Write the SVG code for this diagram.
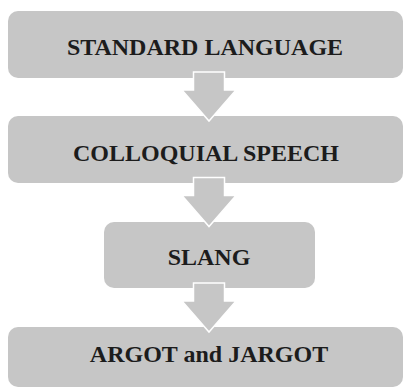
<svg xmlns="http://www.w3.org/2000/svg" width="405" height="388" viewBox="0 0 405 388">
  <defs>
    <style>
      .box { fill: #c6c6c6; }
      .arrow { fill: #c6c6c6; stroke: #ffffff; stroke-width: 1.5; stroke-linejoin: miter; }
      .label { font-family: "Liberation Serif", "Times New Roman", serif; font-weight: bold; font-size: 24px; fill: #1c1c1c; text-anchor: middle; }
    </style>
    <!-- downward block arrow, tip at origin's (0, 49) -->
    <path id="down" d="M -15.5 0 H 15.5 V 18 H 27 L 0 49 L -27 18 H -15.5 Z"/>
  </defs>

  <rect width="405" height="388" fill="#ffffff"/>

  <g id="standard-language">
    <rect class="box" x="8" y="11" width="395" height="67" rx="10"/>
    <text class="label" x="205" y="55">STANDARD LANGUAGE</text>
  </g>

  <g id="colloquial-speech">
    <rect class="box" x="8" y="116" width="395" height="67" rx="10"/>
    <text class="label" x="206" y="161">COLLOQUIAL SPEECH</text>
  </g>

  <g id="slang">
    <rect class="box" x="104" y="222" width="211" height="66" rx="10"/>
    <text class="label" x="209" y="265">SLANG</text>
  </g>

  <g id="argot-jargot">
    <rect class="box" x="8" y="327" width="395" height="60" rx="10"/>
    <text class="label" x="209" y="362">ARGOT and JARGOT</text>
  </g>

  <g id="connectors">
    <use href="#down" class="arrow" transform="translate(209,72)"/>
    <use href="#down" class="arrow" transform="translate(209,177.5)"/>
    <use href="#down" class="arrow" transform="translate(209,283)"/>
  </g>
</svg>
